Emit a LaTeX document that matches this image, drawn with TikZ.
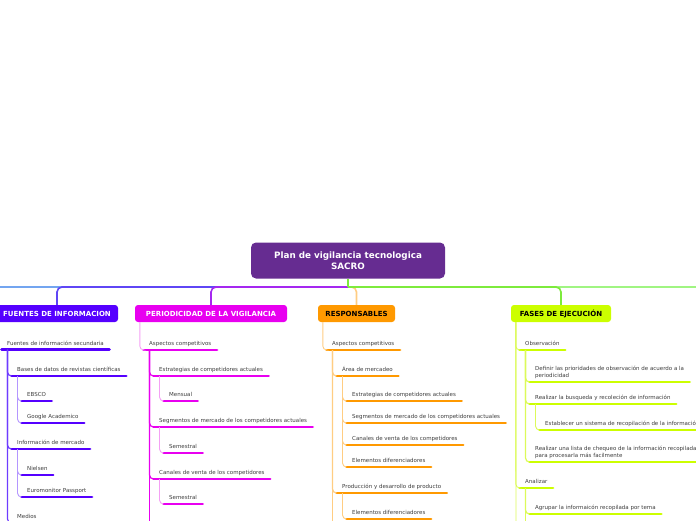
\documentclass[tikz,border=0pt]{standalone}
\usepackage{fontspec}
\setmainfont{DejaVu Sans}
\definecolor{rootc}{RGB}{102,44,145}
\definecolor{fuc}{RGB}{85,0,255}
\definecolor{pec}{RGB}{232,0,240}
\definecolor{rec}{RGB}{255,153,0}
\definecolor{fac}{RGB}{204,255,0}
\definecolor{fuT}{RGB}{110,60,255}
\definecolor{fuL}{RGB}{180,150,255}
\definecolor{peL}{RGB}{245,160,245}
\definecolor{reL}{RGB}{255,205,130}
\definecolor{faL}{RGB}{220,250,90}
\definecolor{lblue}{RGB}{115,165,240}
\definecolor{vio}{RGB}{95,70,245}
\definecolor{pur}{RGB}{165,40,240}
\definecolor{grn}{RGB}{125,235,60}
\definecolor{lgrn}{RGB}{160,245,130}
\definecolor{itemtext}{RGB}{60,60,60}
\newcommand{\itemfont}{\fontsize{5.5}{7}\selectfont}

\begin{document}
\begin{tikzpicture}[x=1pt,y=-1pt,
  box/.style={rectangle,rounded corners=3pt,minimum height=17pt,inner sep=0pt,
              font=\fontsize{7}{8}\selectfont\bfseries},
  rootbox/.style={box,fill=rootc,text=white,rounded corners=5pt,minimum width=194pt,
              minimum height=36pt,align=center,font=\fontsize{8.8}{11}\selectfont\bfseries},
  item/.style={anchor=south west,inner xsep=5.5pt,inner ysep=4pt,text depth=0pt,
              align=left,font=\itemfont,text=itemtext,
              append after command={(\tikzlastnode.south west)
                edge[draw=#1,line width=2.6pt,line cap=round] (\tikzlastnode.south east)}},
  link/.style={draw=#1,line width=0.9pt,rounded corners=4pt},
  trunk/.style={draw=#1,line width=1.2pt,rounded corners=4pt},
  main/.style={draw=#1,line width=1.6pt,rounded corners=5pt},
]
\useasboundingbox (0,0) rectangle (696,520);
\clip (0,0) rectangle (696,520);

\node[rootbox] (root) at (348,260.5) {Plan de vigilancia tecnologica\\SACRO};

% branch heads
\node[box,fill=fuc,text=white,minimum width=122pt] (fuentes) at (57,313.5) {FUENTES DE INFORMACION};
\node[box,fill=pec,text=white,minimum width=152pt] (period) at (211,313.5) {PERIODICIDAD DE LA VIGILANCIA};
\node[box,fill=rec,minimum width=77pt] (resp) at (356.5,313.5) {RESPONSABLES};
\node[box,fill=fac,minimum width=100pt] (fases) at (561,313.5) {FASES DE EJECUCIÓN};

\coordinate (hub) at (348,287);
\coordinate (westend) at (-10,287);
\coordinate (eastend) at (706,287);

\draw[main=lblue] (hub) -- (westend);
\draw[main=vio] (hub) -| (fuentes.north);
\draw[main=pur] (hub) -| (period.north);
\draw[main=lgrn] (hub) -- (eastend);
\draw[main=reL] (hub) -| (resp.north);
\draw[main=grn] (hub) -| (fases.north);
\draw[main=grn] (root.south) -- (hub);

% fuentes de informacion
\node[item=fuc] (f1) at (1.5,349.5) {Fuentes de información secundaria};
\node[item=fuc] (f2) at (11.5,376) {Bases de datos de revistas científicas};
\node[item=fuc] (f3) at (21.5,401) {EBSCO};
\node[item=fuc] (f4) at (21.5,423) {Google Academico};
\node[item=fuc] (f5) at (11.5,449) {Información de mercado};
\node[item=fuc] (f6) at (21.5,475) {Nielsen};
\node[item=fuc] (f7) at (21.5,497) {Euromonitor Passport};
\node[item=fuc] (f8) at (11.5,523) {Medios};

\draw[trunk=fuT] ([xshift=6pt]f1.south west) |- (f2.south west);
\draw[trunk=fuT] ([xshift=6pt]f1.south west) |- (f5.south west);
\draw[trunk=fuT] ([xshift=6pt]f1.south west) |- (f8.south west);
\draw[link=fuL] ([xshift=6pt]f2.south west) |- (f3.south west);
\draw[link=fuL] ([xshift=6pt]f2.south west) |- (f4.south west);
\draw[link=fuL] ([xshift=6pt]f5.south west) |- (f6.south west);
\draw[link=fuL] ([xshift=6pt]f5.south west) |- (f7.south west);

% periodicidad
\node[item=pec] (p1) at (143.5,350) {Aspectos competitivos};
\node[item=pec] (p2) at (153.5,376) {Estrategias de competidores actuales};
\node[item=pec] (p3) at (163.5,401) {Mensual};
\node[item=pec] (p4) at (153.5,427) {Segmentos de mercado de los competidores actuales};
\node[item=pec] (p5) at (163.5,453) {Semestral};
\node[item=pec] (p6) at (153.5,479) {Canales de venta de los competidores};
\node[item=pec] (p7) at (163.5,504) {Semestral};
\coordinate (pend) at (149.5,530);

\draw[link=peL] ([xshift=5pt]period.south west) |- (p1.south west);
\draw[trunk=pec] ([xshift=6pt]p1.south west) |- (p2.south west);
\draw[trunk=pec] ([xshift=6pt]p1.south west) |- (p4.south west);
\draw[trunk=pec] ([xshift=6pt]p1.south west) |- (p6.south west);
\draw[trunk=pec] ([xshift=6pt]p1.south west) -- (pend);
\draw[link=peL] ([xshift=6pt]p2.south west) |- (p3.south west);
\draw[link=peL] ([xshift=6pt]p4.south west) |- (p5.south west);
\draw[link=peL] ([xshift=6pt]p6.south west) |- (p7.south west);

% responsables
\node[item=rec] (r1) at (326.5,350) {Aspectos competitivos};
\node[item=rec] (r2) at (336.5,376) {Área de mercadeo};
\node[item=rec] (r3) at (346.5,401) {Estrategias de competidores actuales};
\node[item=rec] (r4) at (346.5,423) {Segmentos de mercado de los competidores actuales};
\node[item=rec] (r5) at (346.5,445) {Canales de venta de los competidores};
\node[item=rec] (r6) at (346.5,467) {Elementos diferenciadores};
\node[item=rec] (r7) at (336.5,493) {Producción y desarrollo de producto};
\node[item=rec] (r8) at (346.5,519) {Elementos diferenciadores};
\coordinate (rend) at (332.5,530);

\draw[link=reL] ([xshift=5pt]resp.south west) |- (r1.south west);
\draw[trunk=reL] ([xshift=6pt]r1.south west) |- (r2.south west);
\draw[trunk=reL] ([xshift=6pt]r1.south west) |- (r7.south west);
\draw[trunk=reL] ([xshift=6pt]r1.south west) -- (rend);
\foreach \n in {r3,r4,r5,r6}
  \draw[link=reL] ([xshift=6pt]r2.south west) |- (\n.south west);
\draw[link=reL] ([xshift=6pt]r7.south west) |- (r8.south west);

% fases de ejecucion
\node[item=fac] (a1) at (519.5,350) {Observación};
\node[item=fac] (a2) at (529.5,382) {Definir las prioridades de observación de acuerdo a la\\periodicidad};
\node[item=fac] (a3) at (529.5,404) {Realizar la busqueda y recoleción de información};
\node[item=fac] (a4) at (539.5,430) {Establecer un sistema de recopilación de la información};
\node[item=fac] (a5) at (529.5,462) {Realizar una lista de chequeo de la información recopilada\\para procesarla más facilmente};
\node[item=fac] (a6) at (519.5,488) {Analizar};
\node[item=fac] (a7) at (529.5,514) {Agrupar la informaicón recopilada por tema};
\coordinate (aend) at (516,530);
\coordinate (a6end) at (525.5,530);

\draw[link=faL] ([xshift=5pt]fases.south west) |- (a1.south west);
\draw[link=faL] ([xshift=5pt]fases.south west) |- (a6.south west);
\draw[link=faL] ([xshift=5pt]fases.south west) -- (aend);
\foreach \n in {a2,a3,a5}
  \draw[trunk=faL] ([xshift=6pt]a1.south west) |- (\n.south west);
\draw[link=faL] ([xshift=6pt]a3.south west) |- (a4.south west);
\draw[trunk=faL] ([xshift=6pt]a6.south west) |- (a7.south west);
\draw[trunk=faL] ([xshift=6pt]a6.south west) -- (a6end);
\end{tikzpicture}
\end{document}
